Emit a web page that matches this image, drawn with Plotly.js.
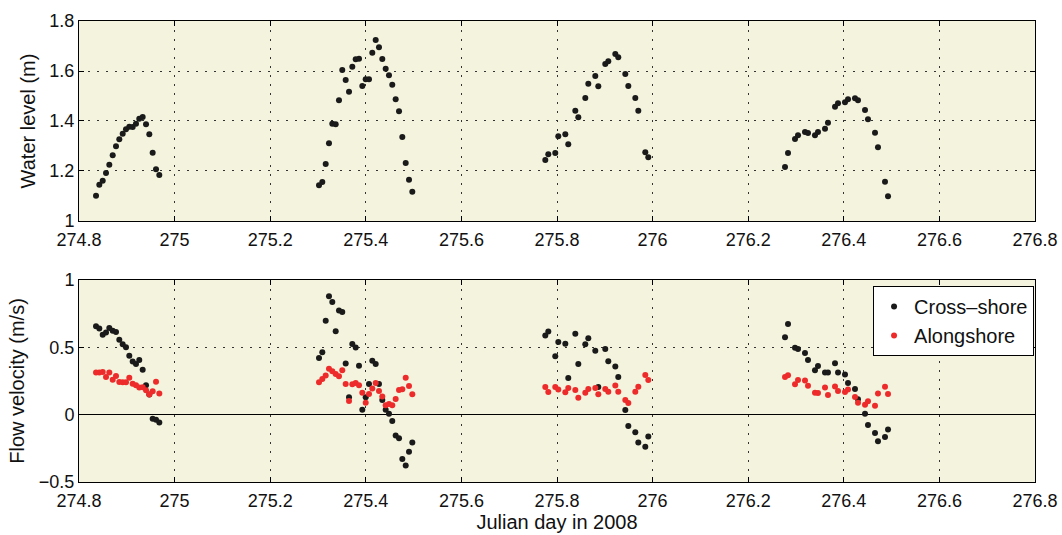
<!DOCTYPE html>
<html>
<head>
<meta charset="utf-8">
<script src="https://cdn.plot.ly/plotly-3.0.1.min.js"></script>
<style>
  html, body { margin: 0; padding: 0; background: #ffffff; }
  #chart { width: 1062px; height: 535px; }
</style>
</head>
<body>
<div id="chart"></div>
<script>
// Sampling times (Julian day, 2008) for the four tidal windows
const julianDay = [
  274.8356, 274.8425, 274.8496, 274.8565, 274.8634, 274.8705, 274.8774, 274.8843, 274.8914, 274.8983,
  274.9052, 274.9123, 274.9192, 274.9261, 274.9332, 274.9402, 274.9471, 274.9541, 274.9611, 274.9680,
  275.3021, 275.3090, 275.3161, 275.3230, 275.3299, 275.3370, 275.3439, 275.3508, 275.3579, 275.3649,
  275.3718, 275.3789, 275.3858, 275.3927, 275.3998, 275.4067, 275.4136, 275.4207, 275.4276, 275.4345,
  275.4416, 275.4485, 275.4554, 275.4625, 275.4695, 275.4764, 275.4835, 275.4904, 275.4973,
  275.7755, 275.7818, 275.7964, 275.8027, 275.8174, 275.8236, 275.8383, 275.8446, 275.8592, 275.8655,
  275.8801, 275.8864, 275.9010, 275.9073, 275.9220, 275.9282, 275.9429, 275.9492, 275.9638, 275.9701,
  275.9847, 275.9910,
  276.2770, 276.2833, 276.2979, 276.3042, 276.3188, 276.3251, 276.3397, 276.3460, 276.3607, 276.3669,
  276.3816, 276.3879, 276.4025, 276.4088, 276.4234, 276.4297, 276.4444, 276.4506, 276.4653, 276.4715,
  276.4862, 276.4925
];

// Water level (m)
const waterLevel = [
  1.101, 1.145, 1.161, 1.192, 1.225, 1.263, 1.299, 1.327, 1.349, 1.367,
  1.377, 1.376, 1.389, 1.409, 1.416, 1.387, 1.347, 1.273, 1.207, 1.184,
  1.143, 1.156, 1.228, 1.311, 1.389, 1.387, 1.483, 1.604, 1.564, 1.517,
  1.617, 1.647, 1.649, 1.540, 1.567, 1.567, 1.673, 1.724, 1.695, 1.648,
  1.609, 1.583, 1.545, 1.487, 1.439, 1.336, 1.232, 1.165, 1.117,
  1.244, 1.267, 1.272, 1.339, 1.347, 1.307, 1.441, 1.415, 1.492, 1.549,
  1.580, 1.539, 1.628, 1.639, 1.668, 1.655, 1.588, 1.540, 1.492, 1.441,
  1.275, 1.255,
  1.216, 1.272, 1.328, 1.343, 1.356, 1.352, 1.343, 1.356, 1.369, 1.393,
  1.457, 1.471, 1.475, 1.487, 1.491, 1.483, 1.444, 1.407, 1.353, 1.295,
  1.157, 1.099
];

// Cross-shore flow velocity (m/s)
const crossShore = [
  0.656, 0.639, 0.594, 0.611, 0.644, 0.624, 0.614, 0.557, 0.522, 0.500,
  0.438, 0.394, 0.377, 0.406, 0.334, 0.218, 0.150, -0.030, -0.037, -0.059,
  0.421, 0.463, 0.698, 0.879, 0.837, 0.619, 0.773, 0.763, 0.379, 0.129,
  0.525, 0.498, 0.364, 0.037, 0.129, 0.228, 0.401, 0.377, 0.228, 0.109,
  0.037, 0.007, -0.047, -0.154, -0.176, -0.329, -0.377, -0.275, -0.206,
  0.587, 0.617, 0.433, 0.540, 0.527, 0.273, 0.600, 0.377, 0.522, 0.567,
  0.475, 0.206, 0.488, 0.396, 0.357, 0.280, 0.035, -0.084, -0.131, -0.206,
  -0.238, -0.163,
  0.574, 0.674, 0.496, 0.488, 0.458, 0.406, 0.329, 0.362, 0.314, 0.314,
  0.381, 0.314, 0.299, 0.235, 0.191, 0.114, 0.007, -0.077, -0.136, -0.198,
  -0.166, -0.111
];

// Alongshore flow velocity (m/s)
const alongShore = [
  0.314, 0.314, 0.317, 0.280, 0.314, 0.260, 0.287, 0.243, 0.240, 0.240,
  0.275, 0.230, 0.218, 0.201, 0.203, 0.181, 0.149, 0.173, 0.245, 0.158,
  0.240, 0.265, 0.290, 0.340, 0.322, 0.302, 0.285, 0.329, 0.228, 0.102,
  0.225, 0.236, 0.218, 0.163, 0.089, 0.154, 0.195, 0.236, 0.176, 0.134,
  0.069, 0.079, 0.069, 0.117, 0.183, 0.188, 0.275, 0.213, 0.151,
  0.206, 0.169, 0.206, 0.186, 0.166, 0.198, 0.184, 0.126, 0.163, 0.191,
  0.198, 0.151, 0.191, 0.171, 0.216, 0.171, 0.109, 0.087, 0.171, 0.208,
  0.295, 0.258,
  0.280, 0.292, 0.225, 0.258, 0.253, 0.215, 0.163, 0.161, 0.201, 0.146,
  0.210, 0.176, 0.169, 0.186, 0.132, 0.089, 0.074, 0.099, 0.067, 0.158,
  0.208, 0.154
];

const seriesNames = ['Cross\u2013shore', 'Alongshore'];
const xTitle = 'Julian day in 2008';
const yTitleTop = 'Water level (m)';
const yTitleBottom = 'Flow velocity (m/s)';

const FONT = 'Liberation Sans, Arial, Helvetica, sans-serif';
const BLACK = '#1a1a1a';
const RED = '#ee2b2b';

const traces = [
  {
    type: 'scatter', mode: 'markers',
    x: julianDay, y: waterLevel,
    xaxis: 'x', yaxis: 'y',
    marker: { color: BLACK, size: 6 },
    showlegend: false, hoverinfo: 'x+y'
  },
  {
    type: 'scatter', mode: 'markers',
    x: julianDay, y: crossShore,
    xaxis: 'x2', yaxis: 'y2',
    name: seriesNames[0],
    marker: { color: BLACK, size: 6 }
  },
  {
    type: 'scatter', mode: 'markers',
    x: julianDay, y: alongShore,
    xaxis: 'x2', yaxis: 'y2',
    name: seriesNames[1],
    marker: { color: RED, size: 6 }
  }
];

const axisCommon = {
  showline: true, linecolor: '#000', linewidth: 1, mirror: 'ticks',
  ticks: 'inside', ticklen: 5, tickcolor: '#000',
  showgrid: true, gridcolor: '#333', gridwidth: 1, griddash: '2px,7px',
  zeroline: false,
  tickfont: { family: FONT, size: 18, color: '#111' }
};

const xCommon = Object.assign({}, axisCommon, {
  range: [274.8, 276.8], tick0: 274.8, dtick: 0.2, autorange: false,
  ticklabelstandoff: 2
});

const layout = {
  width: 1062, height: 535,
  margin: { l: 79, r: 27, t: 21, b: 53 },
  paper_bgcolor: '#ffffff',
  plot_bgcolor: '#f4f4de',
  font: { family: FONT, size: 18, color: '#111' },
  showlegend: true,
  legend: {
    x: 0.999, xanchor: 'right', y: 0.425, yanchor: 'top',
    bgcolor: '#ffffff', bordercolor: '#000', borderwidth: 1,
    font: { family: FONT, size: 20, color: '#111' },
    tracegroupgap: 0
  },
  xaxis: Object.assign({}, xCommon, { anchor: 'y', domain: [0, 1] }),
  xaxis2: Object.assign({}, xCommon, {
    anchor: 'y2', domain: [0, 1],
    title: { text: xTitle, font: { family: FONT, size: 20 }, standoff: 4 }
  }),
  yaxis: Object.assign({}, axisCommon, {
    anchor: 'x', domain: [0.5662, 1],
    range: [1, 1.8], dtick: 0.2, autorange: false,
    title: { text: yTitleTop, font: { family: FONT, size: 20 }, standoff: 8 }
  }),
  yaxis2: Object.assign({}, axisCommon, {
    anchor: 'x2', domain: [0, 0.4382],
    range: [-0.5, 1], dtick: 0.5, autorange: false,
    zeroline: true, zerolinecolor: '#000', zerolinewidth: 1,
    title: { text: yTitleBottom, font: { family: FONT, size: 20 }, standoff: 8 }
  })
};

Plotly.newPlot('chart', traces, layout, { staticPlot: true, displayModeBar: false });
</script>
</body>
</html>
